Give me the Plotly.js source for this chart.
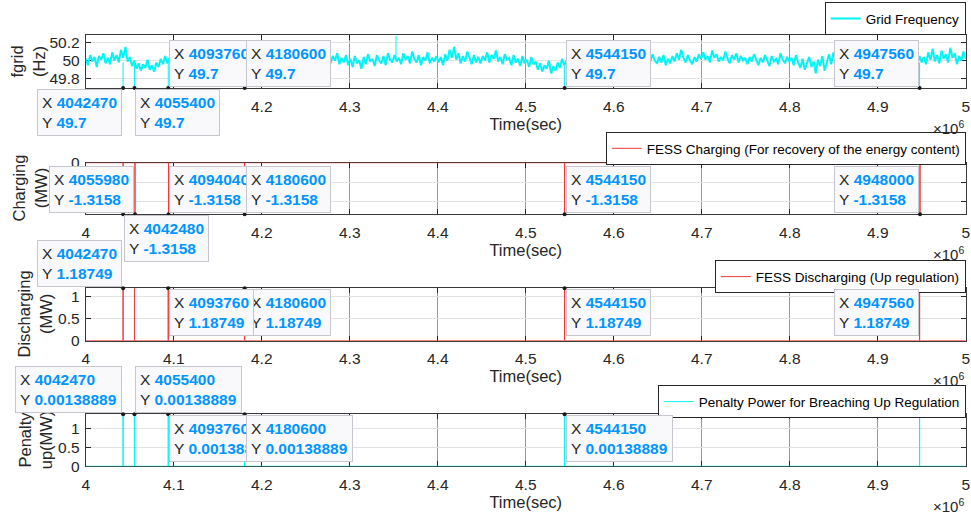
<!DOCTYPE html>
<html><head><meta charset="utf-8">
<script src="https://cdn.plot.ly/plotly-3.0.1.min.js"></script>
<style>html,body{margin:0;padding:0;background:#fff}#chart{width:971px;height:518px}</style>
</head><body><div id="chart"></div>
<script>
// ---------- data ----------
const xStart = 4000000, xEnd = 5000000;
const xTickVals = [4000000, 4100000, 4200000, 4300000, 4400000, 4500000, 4600000, 4700000, 4800000, 4900000, 5000000];
const xTickText = ['4', '4.1', '4.2', '4.3', '4.4', '4.5', '4.6', '4.7', '4.8', '4.9', '5'];

const freqValues = [
50.02,49.95,50.06,49.99,50.04,49.93,50.05,50.01,50.08,49.97,50.03,49.96,50.09,50.00,50.06,49.98,50.12,50.03,50.15,49.99,
50.04,49.94,50.00,49.91,49.97,49.89,49.96,49.92,50.01,49.90,49.95,49.88,49.98,49.93,50.02,49.96,50.05,49.97,50.03,49.99,
50.06,49.96,50.02,49.94,50.07,50.00,49.97,50.04,49.95,50.08,50.01,49.93,50.05,49.98,50.03,49.96,50.07,49.99,50.02,49.95,
50.04,49.97,50.08,50.00,49.94,50.05,49.98,50.03,49.92,50.06,50.01,49.96,50.09,49.99,50.02,49.95,50.05,49.97,50.04,50.00,
50.07,49.98,50.03,49.94,50.06,50.00,49.96,50.05,49.99,50.10,50.02,49.95,50.04,49.97,50.08,50.01,49.96,50.05,49.99,50.03,
50.06,49.99,50.11,50.02,50.16,50.04,50.09,49.98,50.07,50.01,50.12,49.97,50.05,50.00,50.08,49.96,50.03,49.98,50.06,49.95,
50.02,49.93,50.05,49.97,50.00,49.91,50.04,49.96,50.07,49.99,50.02,49.94,50.06,50.00,49.97,50.05,49.95,50.08,50.01,49.98,
50.06,49.99,50.03,49.96,50.08,50.01,50.05,49.97,50.10,50.02,49.98,50.06,49.95,50.04,50.00,50.09,49.97,50.03,49.99,50.05,
49.98,50.04,49.95,50.07,50.00,50.12,50.03,50.15,50.01,50.08,49.97,50.05,49.99,50.10,50.02,49.96,50.06,49.98,50.04,49.97,
50.05,50.00,50.09,49.98,50.06,50.02,50.11,49.99,50.04,49.96,50.07,50.01,50.03,49.95,50.06,49.98,50.02,49.94,50.05,49.97,
50.01,49.93,50.04,49.96,49.99,49.90,49.97,49.88,49.95,49.91,50.00,49.86,49.94,49.89,49.98,49.92,50.02,49.95,50.00,49.97,
50.04,49.98,50.07,50.00,49.96,50.05,49.99,50.09,50.02,49.97,50.06,49.95,50.03,50.00,50.08,49.98,50.04,49.96,50.06,50.01,
49.97,50.05,49.99,50.10,50.02,49.95,50.06,50.00,50.04,49.96,50.08,50.01,49.98,50.05,49.94,50.03,49.99,50.07,50.00,49.97,
50.04,49.98,50.06,49.95,50.02,49.97,50.05,49.99,50.08,50.01,50.12,50.03,49.98,50.06,50.00,49.96,50.04,49.99,50.07,50.02,
50.09,50.01,50.05,49.98,50.11,50.03,50.07,49.99,50.04,50.00,50.10,50.02,49.97,50.06,50.01,50.08,49.98,50.05,50.00,50.03,
49.96,50.04,49.99,50.07,50.01,49.95,50.03,49.98,50.06,50.00,49.94,50.05,49.99,50.02,49.96,50.08,50.01,49.97,50.04,49.99,
50.03,49.95,50.06,49.98,49.92,50.02,49.90,49.97,50.04,49.93,49.99,49.86,50.01,49.94,50.05,49.89,49.98,50.07,49.96,50.09,
50.02,50.12,49.98,50.06,50.00,50.09,49.97,50.04,49.99,50.07,50.01,49.95,50.05,49.98,50.03,49.96,50.08,50.00,50.04,49.97,
50.06,49.99,50.03,49.94,50.05,50.00,49.96,50.07,49.98,50.04,49.93,50.06,50.01,49.97,50.08,49.99,50.03,49.95,50.05,49.98,
50.04,49.96,50.09,50.01,50.13,49.99,50.06,49.97,50.11,50.02,50.07,49.98,50.14,50.03,50.08,49.96,50.05,50.00,50.10,50.02
];
const freqDropTimes = [4042470, 4055400, 4093760, 4180600, 4544150, 4947560];
const freqDropValue = 49.7;
const freqDropTop = 49.98;
const freqPeakTimes = [4352600];
const freqPeakValue = 50.27;
const freqPeakBase = 50.02;

const chargeTimes = [4042480, 4055980, 4094040, 4180600, 4544150, 4948000];
const chargeValue = -1.3158;
const dischargeTimes = [4042470, 4055400, 4093760, 4180600, 4544150, 4947560];
const dischargeValue = 1.18749;
const penaltyTimes = [4042470, 4055400, 4093760, 4180600, 4544150, 4947560];
const penaltyValue = 1.38889;

// data tips (time, value shown)
const freqTipTimes = [4042470, 4055400, 4093760, 4180600, 4544150, 4947560];
const freqTipLabel = '49.7';
const chargeTipTimes = [4055980, 4042480, 4094040, 4180600, 4544150, 4948000];
const chargeTipLabel = '-1.3158';
const dischargeTipTimes = [4042470, 4180600, 4093760, 4544150, 4947560];
const dischargeTipLabel = '1.18749';
const penaltyTipTimes = [4042470, 4055400, 4093760, 4180600, 4544150];
const penaltyTipLabel = '0.00138889';

const seriesNames = ['Grid Frequency', 'FESS Charging (For recovery of the energy content)', 'FESS Discharging (Up regulation)', 'Penalty Power for Breaching Up Regulation'];
const yTitles = ['fgrid<br>(Hz)', 'Charging<br>(MW)', 'Discharging<br>(MW)', 'Penalty<br>up(MW)'];
const yTickSets = [[49.8, 50, 50.2], [-1, -0.5, 0], [0, 0.5, 1], [0, 0.5, 1]];

// ---------- style / layout ----------
const FONT = 'Liberation Sans, Arial, Helvetica, sans-serif';
const CYAN = '#00f5f5';
const RED = '#f03a3a';
const TXT = '#262626';
const BLUE = '#0095ff';
const xDom = [0.0883, 0.9946];
const yDoms = [[0.8301, 0.9324], [0.5863, 0.6859], [0.3423, 0.4434], [0.0998, 0.2002]];
const yRanges = [[freqDropValue, 50.28], [chargeValue, 0], [0, dischargeValue], [0, penaltyValue]];
const legendTops = [0.9955, 0.7451, 0.4974, 0.2561];
const yTitleX = [28, 30, 35, 35]; // px centre of the two-line y titles

// placement of each tip box: [xanchor, yanchor]
const freqTipPlace = [['right','top'],['left','top'],['left','bottom'],['left','bottom'],['left','bottom'],['right','bottom']];
const chargeTipPlace = [['right','bottom'],['left','top'],['left','bottom'],['left','bottom'],['left','bottom'],['right','bottom']];
const dischargeTipPlace = [['right','bottom'],['left','top'],['left','top'],['left','top'],['right','top']];
const penaltyTipPlace = [['right','bottom'],['left','bottom'],['left','top'],['left','top'],['left','top']];

function spikeSeries(times, level) {
  const xs = [xStart], ys = [0];
  times.slice().sort((a, b) => a - b).forEach(t => { xs.push(t, t, t); ys.push(0, level, 0); });
  xs.push(xEnd); ys.push(0);
  return {x: xs, y: ys};
}
function segments(times, y0, y1) {
  const xs = [], ys = [];
  times.forEach(t => { xs.push(t, t, null); ys.push(y0, y1, null); });
  return {x: xs, y: ys};
}
const freqT = freqValues.map((_, i) => xStart + i * (xEnd - xStart) / (freqValues.length - 1));

const traces = [];
traces.push({type: 'scatter', mode: 'lines', x: freqT, y: freqValues, name: seriesNames[0],
  line: {color: CYAN, width: 2}, xaxis: 'x', yaxis: 'y', legend: 'legend', hoverinfo: 'skip'});
const fd = segments(freqDropTimes, freqDropValue, freqDropTop);
traces.push({type: 'scatter', mode: 'lines', x: fd.x, y: fd.y, showlegend: false, cliponaxis: false,
  line: {color: CYAN, width: 1}, xaxis: 'x', yaxis: 'y', hoverinfo: 'skip'});
const fp = segments(freqPeakTimes, freqPeakBase, freqPeakValue);
traces.push({type: 'scatter', mode: 'lines', x: fp.x, y: fp.y, showlegend: false,
  line: {color: CYAN, width: 1}, xaxis: 'x', yaxis: 'y', hoverinfo: 'skip'});

const cs = spikeSeries(chargeTimes, chargeValue);
traces.push({type: 'scatter', mode: 'lines', x: cs.x, y: cs.y, name: seriesNames[1], cliponaxis: false,
  line: {color: RED, width: 1}, xaxis: 'x2', yaxis: 'y2', legend: 'legend2', hoverinfo: 'skip'});
const ds = spikeSeries(dischargeTimes, dischargeValue);
traces.push({type: 'scatter', mode: 'lines', x: ds.x, y: ds.y, name: seriesNames[2], cliponaxis: false,
  line: {color: RED, width: 1}, xaxis: 'x3', yaxis: 'y3', legend: 'legend3', hoverinfo: 'skip'});
const ps = spikeSeries(penaltyTimes, penaltyValue);
traces.push({type: 'scatter', mode: 'lines', x: ps.x, y: ps.y, name: seriesNames[3], cliponaxis: false,
  line: {color: CYAN, width: 1}, xaxis: 'x4', yaxis: 'y4', legend: 'legend4', hoverinfo: 'skip'});

const annotations = [];
// y axis titles (drawn first so the data tips sit above them)
['', '2', '3', '4'].forEach((a, k) => {
  annotations.push({xref: 'paper', yref: 'y' + a + ' domain', x: yTitleX[k] / 971, y: 0.5, xanchor: 'center', yanchor: 'middle',
    textangle: -90, showarrow: false, text: yTitles[k], font: {family: FONT, size: 16.5, color: TXT}});
});
// x10^6 exponent labels
['', '2', '3', '4'].forEach(a => {
  annotations.push({xref: 'x' + a + ' domain', yref: 'y' + a + ' domain', x: 1, y: 0, xanchor: 'right', yanchor: 'middle',
    yshift: -39, showarrow: false, text: '×10<sup>6</sup>', font: {family: FONT, size: 15, color: TXT}});
});

const tipSets = [
  {times: freqTipTimes, level: freqDropValue, label: freqTipLabel, place: freqTipPlace, ax: ''},
  {times: chargeTipTimes, level: chargeValue, label: chargeTipLabel, place: chargeTipPlace, ax: '2'},
  {times: dischargeTipTimes, level: dischargeValue, label: dischargeTipLabel, place: dischargeTipPlace, ax: '3'},
  {times: penaltyTipTimes, level: penaltyValue, label: penaltyTipLabel, place: penaltyTipPlace, ax: '4'}
];
tipSets.forEach(s => {
  traces.push({type: 'scatter', mode: 'markers', x: s.times, y: s.times.map(() => s.level), showlegend: false,
    cliponaxis: false, marker: {color: '#1a1a1a', size: 4}, xaxis: 'x' + s.ax, yaxis: 'y' + s.ax, hoverinfo: 'skip'});
  s.times.forEach((t, i) => {
    const [xa, ya] = s.place[i];
    annotations.push({
      xref: 'x' + s.ax, yref: 'y' + s.ax, x: t, y: s.level, xanchor: xa, yanchor: ya,
      xshift: xa === 'left' ? 1 : -1, yshift: ya === 'top' ? -1 : 1,
      showarrow: false, align: 'left',
      text: 'X <span style="color:' + BLUE + '"><b>' + t + '</b></span><br>Y <span style="color:' + BLUE + '"><b>' + s.label + '</b></span>',
      font: {family: FONT, size: 15.5, color: TXT},
      bgcolor: '#f9f9fc', bordercolor: '#c6c6ce', borderwidth: 1, borderpad: 4
    });
  });
});

const layout = {
  width: 971, height: 518, margin: {l: 0, r: 0, t: 0, b: 0},
  paper_bgcolor: '#fff', plot_bgcolor: '#fff',
  font: {family: FONT, color: TXT},
  annotations: annotations
};
['', '2', '3', '4'].forEach((a, k) => {
  layout['xaxis' + a] = {
    domain: xDom, anchor: 'y' + a, range: [xStart, xEnd], tickvals: xTickVals, ticktext: xTickText,
    ticks: 'inside', ticklen: 5, tickcolor: TXT, showline: true, linecolor: '#3a3a3a', linewidth: 1, mirror: 'ticks',
    showgrid: true, gridcolor: '#9a9a9a', zeroline: false, layer: 'below traces', automargin: false, fixedrange: true,
    tickfont: {family: FONT, size: 15.5, color: TXT}, ticklabelstandoff: 4,
    title: {text: 'Time(sec)', font: {family: FONT, size: 16.5, color: TXT}, standoff: 4}
  };
  layout['yaxis' + a] = {
    domain: yDoms[k], anchor: 'x' + a, range: yRanges[k], tickvals: yTickSets[k],
    ticks: 'inside', ticklen: 5, tickcolor: TXT, showline: true, linecolor: '#3a3a3a', linewidth: 1, mirror: 'ticks',
    showgrid: true, gridcolor: '#e2e2e2', zeroline: false, layer: 'below traces', automargin: false, fixedrange: true,
    tickfont: {family: FONT, size: 15.5, color: TXT}, ticklabelstandoff: 2
  };
  layout['legend' + a] = {
    x: 0.9946, y: legendTops[k], xanchor: 'right', yanchor: 'top', xref: 'paper', yref: 'paper',
    bgcolor: '#ffffff', bordercolor: '#262626', borderwidth: 1,
    font: {family: FONT, size: 13.5, color: '#000'}, itemwidth: 30, tracegroupgap: 0
  };
});

Plotly.newPlot('chart', traces, layout, {displayModeBar: false, staticPlot: true});
</script></body></html>
